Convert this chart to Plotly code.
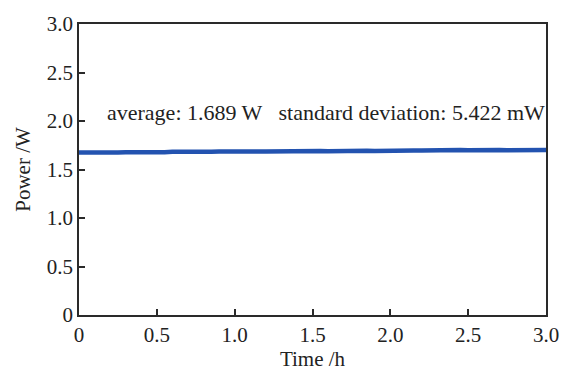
import plotly.graph_objects as go

time_h = [i * 0.05 for i in range(61)]
power_w = [1.676, 1.674, 1.677, 1.675, 1.678, 1.676, 1.679, 1.677, 1.680, 1.678,
           1.681, 1.679, 1.682, 1.680, 1.683, 1.681, 1.684, 1.682, 1.685, 1.683,
           1.686, 1.684, 1.687, 1.685, 1.686, 1.688, 1.686, 1.689, 1.687, 1.690,
           1.688, 1.691, 1.689, 1.692, 1.690, 1.693, 1.691, 1.694, 1.692, 1.695,
           1.693, 1.696, 1.694, 1.697, 1.695, 1.698, 1.696, 1.699, 1.697, 1.700,
           1.698, 1.701, 1.699, 1.700, 1.702, 1.699, 1.701, 1.698, 1.702, 1.700, 1.701]
tick_vals = [0, 0.5, 1.0, 1.5, 2.0, 2.5, 3.0]
tick_text = ["0", "0.5", "1.0", "1.5", "2.0", "2.5", "3.0"]
note = "average: 1.689 W   standard deviation: 5.422 mW"

font = "Liberation Serif"
fs = 21
fig = go.Figure()
fig.add_trace(go.Scatter(x=time_h, y=power_w, mode="lines",
                         line=dict(color="#2353b0", width=4.5), showlegend=False))
axis_common = dict(showgrid=False, zeroline=False, showline=True, linecolor="#2a2a2a",
                   linewidth=1.5, mirror=True, ticks="inside", ticklen=6, tickwidth=1.5,
                   tickcolor="#2a2a2a", tickvals=tick_vals, ticktext=tick_text,
                   tickfont=dict(family=font, size=fs, color="#222"))
fig.update_xaxes(range=[0, 3.0], title=dict(text="Time /h", font=dict(family=font, size=fs, color="#222"), standoff=2), **axis_common)
fig.update_yaxes(range=[0, 3.0], title=dict(text="Power /W", font=dict(family=font, size=fs, color="#222"), standoff=10), **axis_common)
fig.add_annotation(x=0.165, y=2.09, xref="x", yref="y", text=note, showarrow=False,
                   xanchor="left", yanchor="middle", font=dict(family=font, size=22, color="#222"))
fig.update_layout(width=571, height=376, margin=dict(l=79, r=20, t=15, b=61),
                  paper_bgcolor="white", plot_bgcolor="white")
fig.write_html("out.html")
